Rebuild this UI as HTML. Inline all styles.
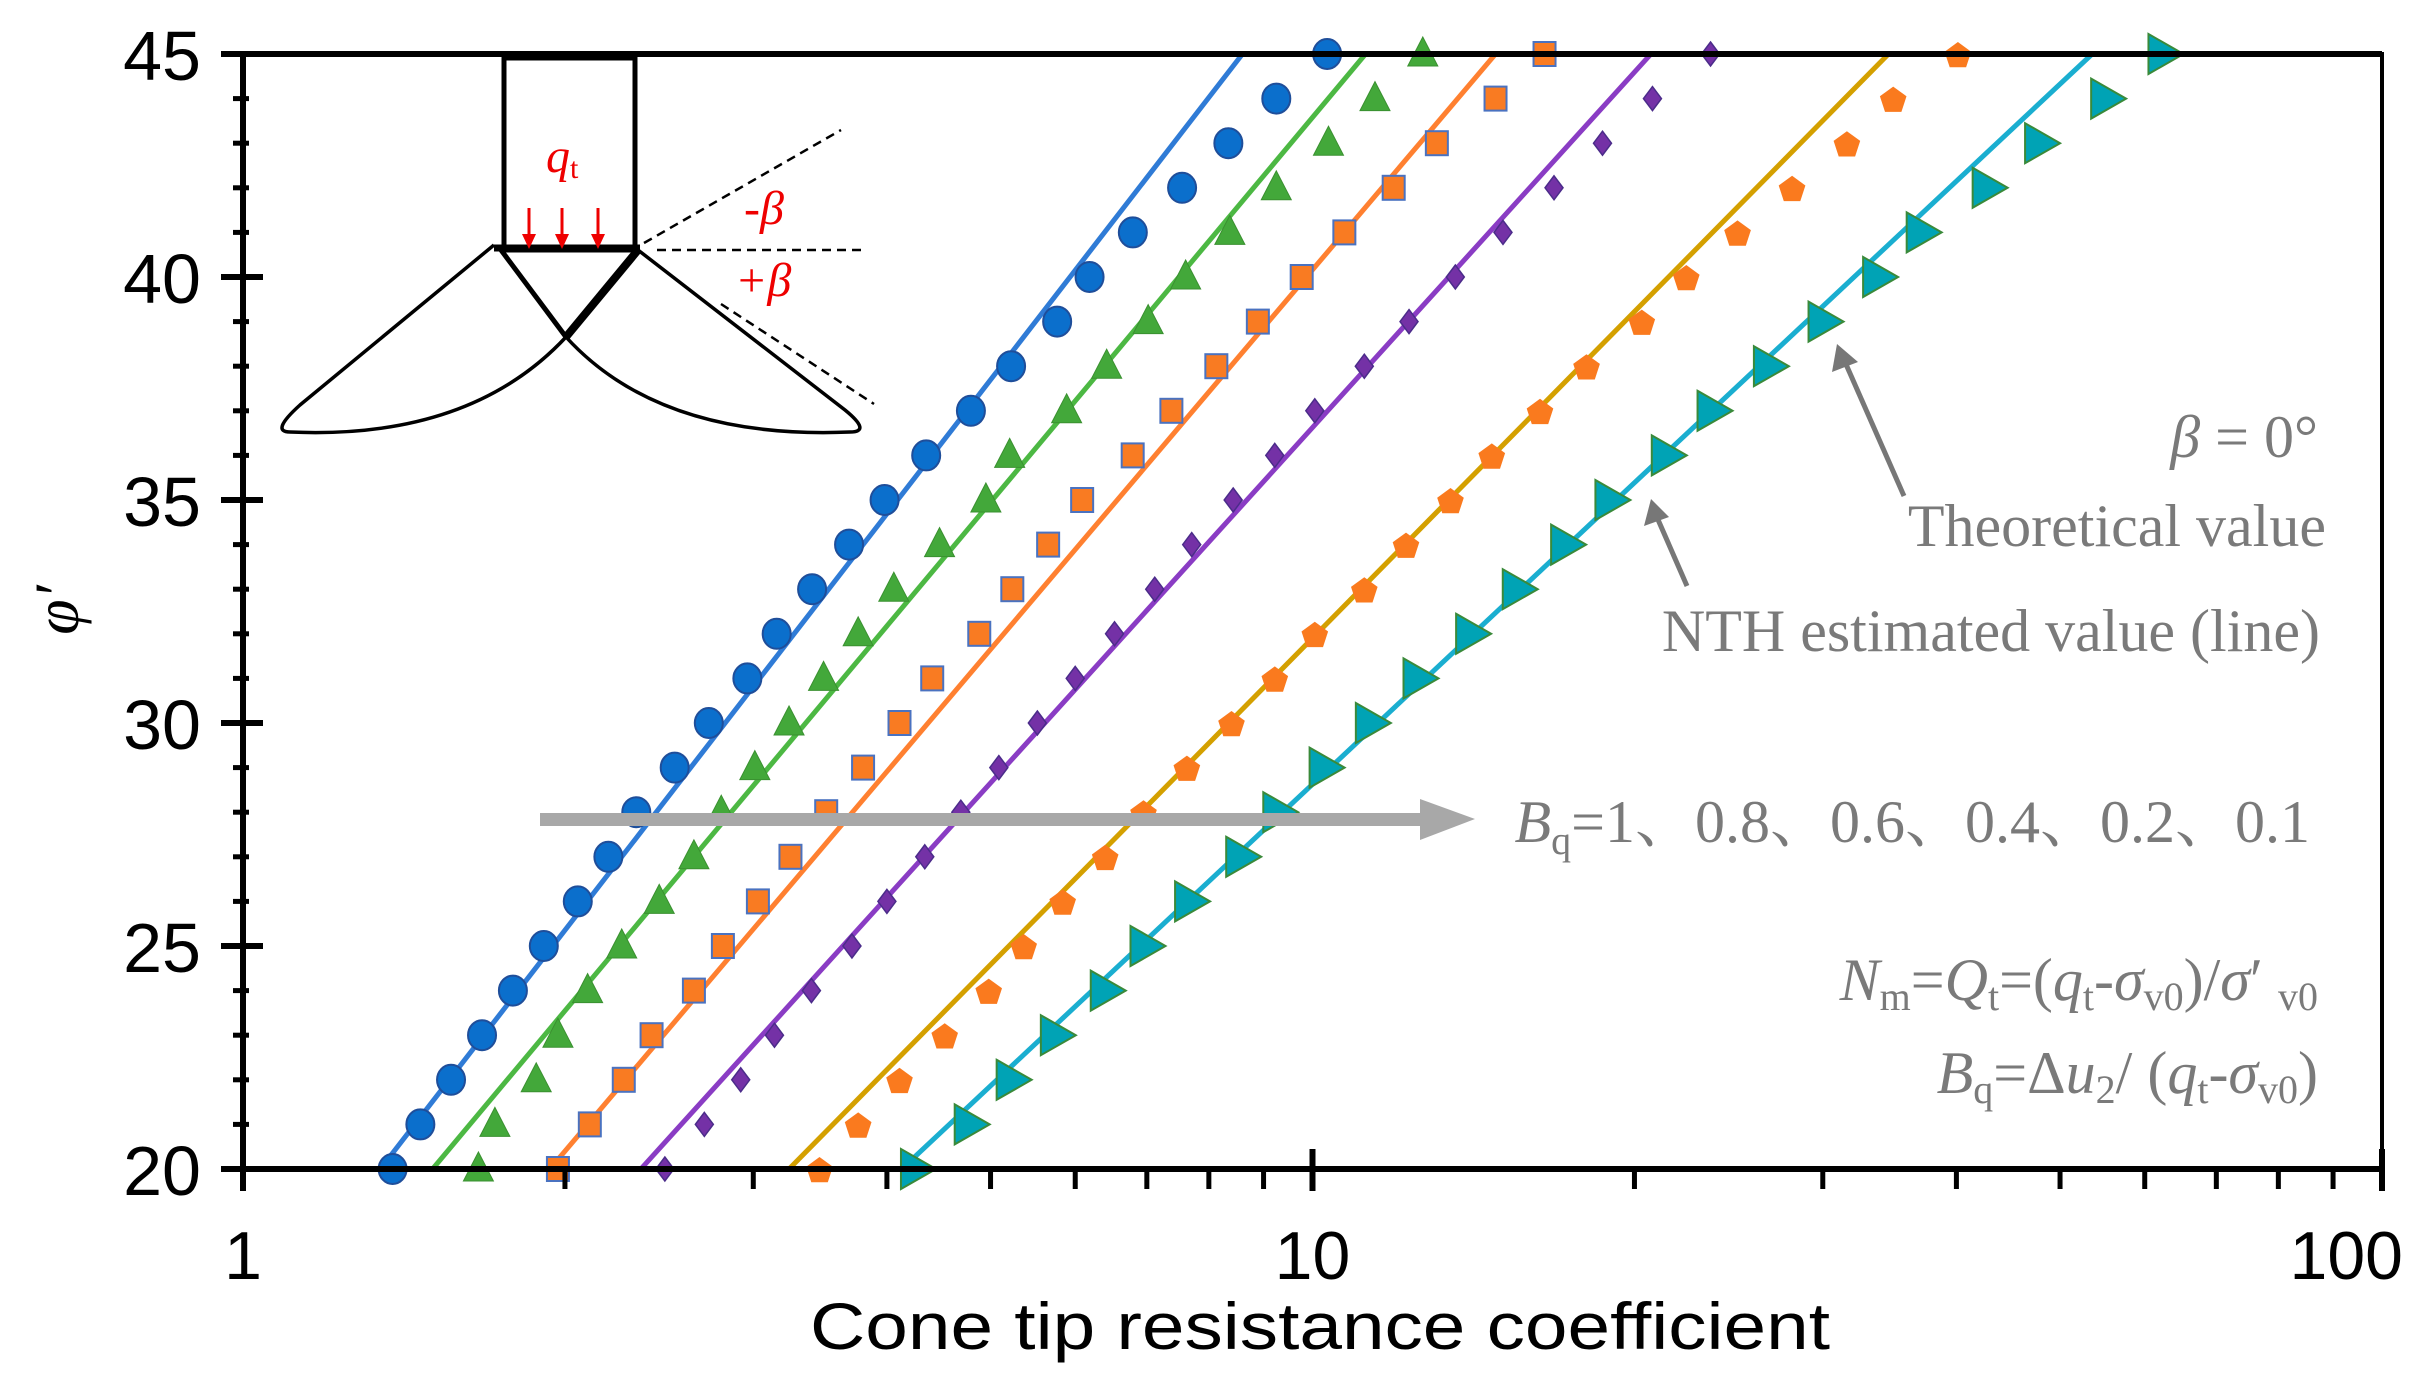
<!DOCTYPE html>
<html><head><meta charset="utf-8"><style>
html,body{margin:0;padding:0;background:#fff;}
svg{display:block;}
</style></head><body>
<svg id="chart" width="2419" height="1375" viewBox="0 0 2419 1375" xmlns="http://www.w3.org/2000/svg">
<g id="lines"></g>
<g id="marks"></g>
<g id="axes"></g>
<g fill="none" stroke="#000">
  <rect x="504" y="58" width="131" height="192" stroke-width="5"/>
  <line x1="494" y1="248" x2="640" y2="248" stroke-width="7"/>
  <line x1="501" y1="250" x2="566" y2="337" stroke-width="5"/>
  <line x1="638" y1="250" x2="566" y2="337" stroke-width="8"/>
  <path d="M494,245 L300,405 Q270,432 290,432 Q470,440 566,337" stroke-width="3.5"/>
  <path d="M638,250 L845,410 Q872,432 850,432 Q660,440 566,337" stroke-width="3.5"/>
  <line x1="644" y1="243" x2="841" y2="130" stroke-width="2.5" stroke-dasharray="9,6"/>
  <line x1="657" y1="250" x2="864" y2="250" stroke-width="2.5" stroke-dasharray="9,6"/>
  <line x1="721" y1="304" x2="874" y2="404" stroke-width="2.5" stroke-dasharray="9,6"/>
  <g stroke="#e00" stroke-width="3" fill="#e00">
    <line x1="529" y1="208" x2="529" y2="238"/><polygon points="522,234 536,234 529,249" stroke="none"/>
    <line x1="562" y1="208" x2="562" y2="238"/><polygon points="555,234 569,234 562,249" stroke="none"/>
    <line x1="598" y1="208" x2="598" y2="238"/><polygon points="591,234 605,234 598,249" stroke="none"/>
  </g>
  <text x="546" y="172" fill="#e00" stroke="none" font-family="Liberation Serif, serif" font-size="48" font-style="italic">q<tspan font-size="30" font-style="normal" dy="6">t</tspan></text>
  <text x="744" y="224" fill="#e00" stroke="none" font-family="Liberation Serif, serif" font-size="48" font-style="italic">-β</text>
  <text x="735" y="296" fill="#e00" stroke="none" font-family="Liberation Serif, serif" font-size="48" font-style="italic">+β</text>
</g>
<g font-family="Liberation Serif, 'Noto Serif CJK SC', serif" fill="#7a7a7a" font-size="60" text-anchor="end">
  <rect x="540" y="813" width="880" height="13" fill="#a8a8a8"/>
  <polygon points="1420,799 1475,819 1420,840" fill="#a8a8a8"/>
  <text x="2310" y="842"><tspan font-style="italic">B</tspan><tspan font-size="40" dy="12">q</tspan><tspan dy="-12">=1、0.8、0.6、0.4、0.2、0.1</tspan></text>
  <text x="2318" y="457"><tspan font-style="italic">β</tspan> = 0°</text>
  <text x="2326" y="546">Theoretical  value</text>
  <text x="2320" y="651">NTH estimated value (line)</text>
  <text x="2318" y="1000"><tspan font-style="italic">N</tspan><tspan font-size="40" dy="10">m</tspan><tspan dy="-10">=</tspan><tspan font-style="italic">Q</tspan><tspan font-size="40" dy="10">t</tspan><tspan dy="-10">=(</tspan><tspan font-style="italic">q</tspan><tspan font-size="40" dy="10">t</tspan><tspan dy="-10">-</tspan><tspan font-style="italic">σ</tspan><tspan font-size="40" dy="10">v0</tspan><tspan dy="-10">)/</tspan><tspan font-style="italic">σ</tspan><tspan>′ </tspan><tspan font-size="40" dy="10">v0</tspan></text>
  <text x="2318" y="1093"><tspan font-style="italic">B</tspan><tspan font-size="40" dy="10">q</tspan><tspan dy="-10">=Δ</tspan><tspan font-style="italic">u</tspan><tspan font-size="40" dy="10">2</tspan><tspan dy="-10">/ (</tspan><tspan font-style="italic">q</tspan><tspan font-size="40" dy="10">t</tspan><tspan dy="-10">-</tspan><tspan font-style="italic">σ</tspan><tspan font-size="40" dy="10">v0</tspan><tspan dy="-10">)</tspan></text>
  <g stroke="#777" stroke-width="5" fill="#777">
    <line x1="1904" y1="496" x2="1845" y2="362"/>
    <polygon points="1837,344 1832,372 1858,362" stroke="none"/>
    <line x1="1687" y1="586" x2="1656" y2="515"/>
    <polygon points="1651,499 1644,526 1669,517" stroke="none"/>
  </g>
</g>
<text x="1320" y="1349" text-anchor="middle" font-family="Liberation Sans, sans-serif" font-size="66" fill="#000" textLength="1020" lengthAdjust="spacingAndGlyphs">Cone tip resistance coefficient</text>
<text transform="translate(78,610) rotate(-90)" text-anchor="middle" font-family="Liberation Serif, serif" font-style="italic" font-size="64" fill="#000">φ′</text>
</svg>
<script>
const phi = [20,21,22,23,24,25,26,27,28,29,30,31,32,33,34,35,36,37,38,39,40,41,42,43,44,45];
const seriesBq1 = [1.38,1.465,1.565,1.673,1.788,1.911,2.056,2.196,2.332,2.533,2.726,2.962,3.155,3.405,3.687,3.98,4.353,4.793,5.226,5.771,6.188,6.792,7.552,8.343,9.25,10.32];
const seriesBq08 = [1.66,1.72,1.88,1.97,2.10,2.26,2.45,2.64,2.80,3.01,3.24,3.49,3.76,4.06,4.48,4.95,5.21,5.89,6.42,7.02,7.61,8.37,9.25,10.35,11.44,12.68];
const seriesBq06 = [1.97,2.11,2.27,2.41,2.64,2.81,3.03,3.25,3.51,3.80,4.11,4.41,4.88,5.24,5.66,6.09,6.79,7.38,8.13,8.89,9.77,10.71,11.91,13.07,14.83,16.48];
const seriesBq04 = [2.48,2.70,2.92,3.14,3.40,3.71,4.00,4.34,4.69,5.09,5.53,6.00,6.53,7.12,7.71,8.43,9.22,10.05,11.18,12.31,13.60,15.07,16.82,18.67,20.79,23.56];
const seriesBq02 = [3.46,3.76,4.11,4.53,4.98,5.37,5.84,6.40,6.95,7.63,8.40,9.22,10.05,11.18,12.23,13.46,14.71,16.32,18.04,20.32,22.36,24.97,28.08,31.60,34.91,40.13];
const seriesBq01 = [4.24,4.76,5.21,5.73,6.38,6.95,7.65,8.54,9.25,10.22,11.29,12.51,14.01,15.49,17.19,18.91,21.35,23.56,26.60,29.92,33.65,36.96,42.60,47.69,54.98,62.2];
const linePhi = [20,45];
const lineBq1 = [1.344,8.60];
const lineBq08 = [1.504,11.21];
const lineBq06 = [1.936,14.83];
const lineBq04 = [2.355,20.72];
const lineBq02 = [3.24,34.56];
const lineBq01 = [4.13,53.58];
const yTicks = [20,25,30,35,40,45];
const xTicks = [1,10,100];

const NS='http://www.w3.org/2000/svg';
const X0=243,X1=2382,Y0=1169,Y1=54;
const xs=v=>X0+(Math.log10(v)-0)/2*(X1-X0);
const ys=v=>Y0-(v-20)/25*(Y0-Y1);
function mk(tag,attrs,parent){const e=document.createElementNS(NS,tag);for(const k in attrs)e.setAttribute(k,attrs[k]);parent.appendChild(e);return e;}

const lines=document.getElementById('lines');
const lineDefs=[[lineBq1,'#2f7bd6','line-bq-1'],[lineBq08,'#4cb843','line-bq-0.8'],[lineBq06,'#ff8030','line-bq-0.6'],[lineBq04,'#8a3cc4','line-bq-0.4'],[lineBq02,'#d4a000','line-bq-0.2'],[lineBq01,'#1aaed0','line-bq-0.1']];
lineDefs.forEach(d=>{
  const l=mk('line',{x1:xs(d[0][0]),y1:ys(linePhi[0]),x2:xs(d[0][1]),y2:ys(linePhi[1]),stroke:d[1],'stroke-width':5},lines);
  
  
});

const marks=document.getElementById('marks');
function drawMarker(type,cx,cy,g){
  let e;
  if(type==='circle') e=mk('ellipse',{cx,cy,rx:14,ry:15,fill:'#0b6fcc',stroke:'#1f4e9a','stroke-width':2},g);
  else if(type==='tri') e=mk('polygon',{points:`${cx},${cy-17} ${cx-15},${cy+12} ${cx+15},${cy+12}`,fill:'#43a83a',stroke:'#3a9030','stroke-width':1},g);
  else if(type==='square') e=mk('rect',{x:cx-11,y:cy-12,width:22,height:24,fill:'#f97b22',stroke:'#4a72c0','stroke-width':2},g);
  else if(type==='diamond') e=mk('polygon',{points:`${cx},${cy-12} ${cx+9},${cy} ${cx},${cy+12} ${cx-9},${cy}`,fill:'#7431a6',stroke:'#4b2c8a','stroke-width':1.5},g);
  else if(type==='pent'){let p=[];for(let i=0;i<5;i++){const a=-Math.PI/2+i*2*Math.PI/5;p.push((cx+14*Math.cos(a)).toFixed(1)+','+(cy+2+14*Math.sin(a)).toFixed(1));}e=mk('polygon',{points:p.join(' '),fill:'#fa7a1e'},g);}
  else e=mk('polygon',{points:`${cx-13},${cy-20} ${cx+22},${cy} ${cx-13},${cy+20}`,fill:'#00a3b5',stroke:'#3a8a3a','stroke-width':2},g);
  return e;
}
const markDefs=[[seriesBq1,'circle','bq-1'],[seriesBq08,'tri','bq-0.8'],[seriesBq06,'square','bq-0.6'],[seriesBq04,'diamond','bq-0.4'],[seriesBq02,'pent','bq-0.2'],[seriesBq01,'rtri','bq-0.1']];
markDefs.forEach(d=>{
  const g=mk('g',{},marks);
  
  
  d[0].forEach((v,i)=>{
    const e=drawMarker(d[1],xs(v),ys(phi[i]),g);
    
    
  });
});

const axes=document.getElementById('axes');
const frame=mk('rect',{x:X0,y:Y1,width:X1-X0,height:Y0-Y1,fill:'none',stroke:'#000','stroke-width':4},axes);


mk('line',{x1:X0,y1:Y0,x2:X1,y2:Y0,stroke:'#000','stroke-width':6},axes);
mk('line',{x1:X0,y1:Y0,x2:X0,y2:Y1,stroke:'#000','stroke-width':6},axes);
mk('line',{x1:X0-20,y1:Y1,x2:X1,y2:Y1,stroke:'#000','stroke-width':6},axes);
for(let v=20;v<=45;v++){
  const y=ys(v);
  if(v%5) mk('line',{x1:X0-10,y1:y,x2:X0+6,y2:y,stroke:'#000','stroke-width':5},axes);
}
yTicks.forEach(v=>{
  const y=ys(v);
  mk('line',{x1:X0-22,y1:y,x2:X0+20,y2:y,stroke:'#000','stroke-width':6},axes);
  const t=mk('text',{x:X0-42,y:y+26,'text-anchor':'end','font-family':'Liberation Sans, sans-serif','font-size':70,fill:'#000'},axes);
  t.textContent=v;
  
  
});
for(let d=0;d<2;d++){for(let m=2;m<=9;m++){const x=xs(m*Math.pow(10,d));mk('line',{x1:x,y1:Y0,x2:x,y2:Y0+20,stroke:'#000','stroke-width':5},axes);}}
xTicks.forEach((v,i)=>{
  const x=xs(v);
  mk('line',{x1:x,y1:Y0-20,x2:x,y2:Y0+22,stroke:'#000','stroke-width':6},axes);
  const t=mk('text',{x:i===2?2403:x,y:1279,'text-anchor':i===2?'end':'middle','font-family':'Liberation Sans, sans-serif','font-size':68,fill:'#000'},axes);
  t.textContent=v;
  
  
});
</script>
</body></html>
